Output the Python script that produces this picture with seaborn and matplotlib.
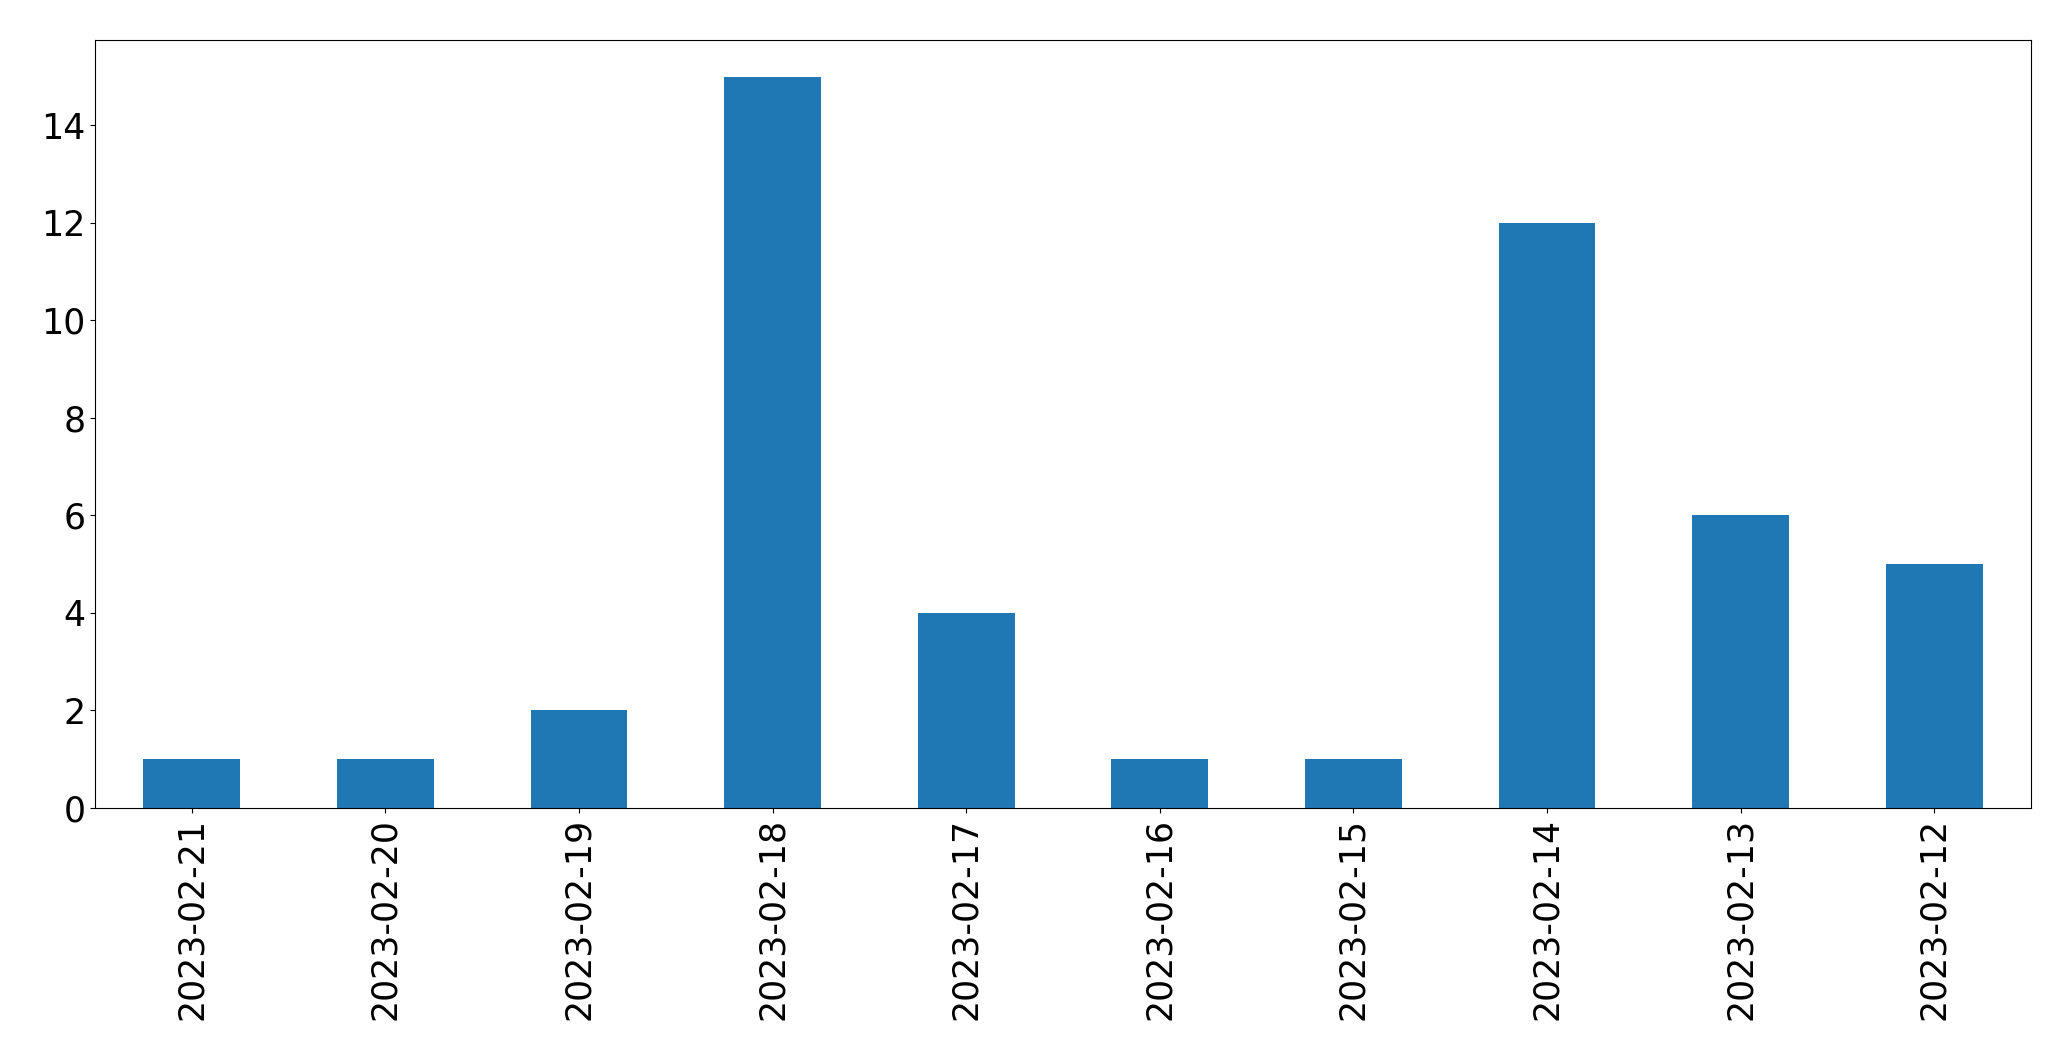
import matplotlib
matplotlib.use("Agg")
import matplotlib.pyplot as plt
import seaborn as sns
import pandas as pd

dates = ["2023-02-21", "2023-02-20", "2023-02-19", "2023-02-18", "2023-02-17",
         "2023-02-16", "2023-02-15", "2023-02-14", "2023-02-13", "2023-02-12"]
counts = [1, 1, 2, 15, 4, 1, 1, 12, 6, 5]

df = pd.DataFrame({"date": dates, "count": counts})

fig = plt.figure(figsize=(20.71, 10.61), dpi=100)
ax = fig.add_axes([0.0459, 0.2385, 0.9348, 0.7238])
sns.barplot(data=df, x="date", y="count", order=dates, color="#1f77b4",
            saturation=1, width=0.5, ax=ax, linewidth=0)
ax.set_xlim(-0.5, len(dates) - 0.5)
ax.set_ylim(0, 15.75)
ax.set_xlabel("")
ax.set_ylabel("")
ax.tick_params(axis="both", labelsize=25)
ax.tick_params(axis="x", labelrotation=90)
fig.savefig("out.png", dpi=100)
